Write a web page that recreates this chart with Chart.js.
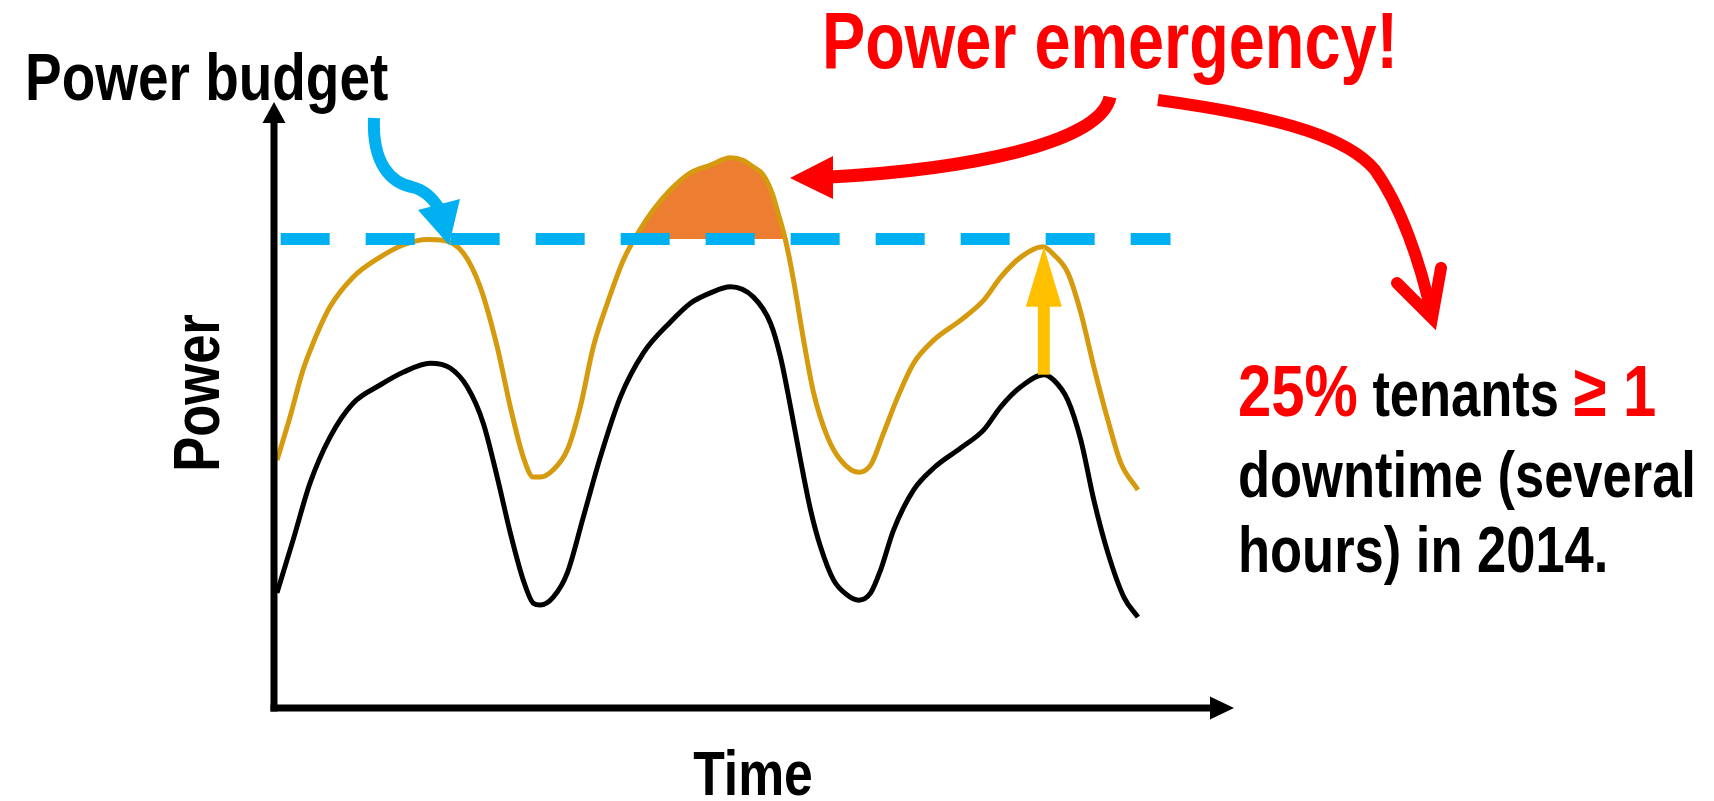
<!DOCTYPE html>
<html>
<head>
<meta charset="utf-8">
<script src="https://cdn.jsdelivr.net/npm/chart.js@4.4.1/dist/chart.umd.min.js"></script>
<style>
html, body { margin: 0; padding: 0; background: #fff; }
#wrap { position: relative; width: 1714px; height: 801px; }
</style>
</head>
<body>
<div id="wrap"><canvas id="chart"></canvas></div>
<script>
// ===== data (time and power in arbitrary units, 0-100) =====
const budgetLevel = 77.4;
const budgetSpan = [0.9, 93.4];

// gold curve: power with oversubscription
const peakTime = [0.52, 1.87, 3.23, 4.27, 6.03, 8.43, 11.24, 13.63, 16.13, 17.79, 19.88, 21.64, 23.41, 24.77, 26.12,
    27.16, 27.89, 29.24, 30.70, 32.05, 33.40, 34.86, 36.52, 38.25, 39.65, 41.42, 43.50, 45.58, 47.66, 48.96,
    50.00, 51.04, 51.98, 52.60, 53.38, 54.21, 55.26, 56.30, 57.75, 59.11, 60.98, 62.23, 63.58, 65.04, 66.70,
    68.78, 71.59, 73.99, 75.75, 77.84, 80.12, 81.27, 82.73, 84.08, 85.43, 86.89, 88.24, 90.01];
const peakPower = [40.9, 48.0, 55.8, 60.2, 66.2, 71.1, 74.4, 76.4, 77.3, 77.2, 75.1, 69.5, 59.6, 49.7, 41.4,
    38.1, 38.1, 39.3, 42.6, 49.7, 59.6, 66.8, 73.9, 78.9, 82.2, 85.5, 88.3, 89.6, 90.8, 90.4,
    89.3, 88.0, 85.0, 81.7, 77.2, 70.6, 60.7, 52.0, 44.7, 40.9, 38.9, 40.1, 45.4, 51.3, 56.9,
    60.7, 64.0, 67.3, 71.1, 74.4, 76.1, 74.8, 71.8, 65.2, 56.3, 47.5, 40.4, 36.0];

// black curve: normal power
const baseTime = [0.52, 2.19, 3.95, 6.03, 8.43, 11.24, 13.63, 16.44, 18.52, 20.29, 21.96, 23.41, 24.77, 26.12,
    27.16, 27.89, 29.24, 30.70, 32.36, 34.13, 36.21, 38.61, 41.42, 43.50, 45.58, 47.66, 50.05, 51.82,
    52.86, 53.90, 54.94, 55.98, 57.02, 58.38, 59.83, 60.98, 62.23, 63.27, 64.62, 66.70, 68.78, 71.59,
    73.99, 75.75, 77.84, 80.23, 81.27, 82.73, 84.08, 85.43, 86.89, 88.55, 90.01];
const basePower = [19.0, 27.7, 37.1, 44.7, 50.3, 53.3, 55.4, 56.9, 56.1, 53.0, 47.0, 38.1, 28.9, 21.1,
    17.3, 17.0, 18.3, 22.3, 31.5, 41.4, 51.3, 58.6, 63.7, 66.8, 68.5, 69.5, 67.8, 63.5,
    57.9, 49.7, 40.9, 32.7, 26.6, 21.1, 18.6, 17.8, 19.0, 22.8, 29.4, 36.0, 39.6, 42.9,
    45.9, 49.7, 53.0, 55.0, 54.1, 50.8, 44.2, 34.3, 25.6, 18.3, 15.0];

const xTitle = 'Time';
const yTitle = 'Power';
const budgetText = 'Power budget';
const emergencyText = 'Power emergency!';
const noteLines = [
    [['25%', 'red'], [' tenants ', 'black'], ['\u2265 1', 'red']],
    [['downtime (several', 'black']],
    [['hours) in 2014.', 'black']],
];

const RED = '#FF0000';
const BLUE = '#00B0F0';
const GOLD = '#D59A0E';
const ORANGE = '#ED7D31';
const YELLOW = '#FFC000';

// ----- text helpers (Arial Narrow look) -----
let narrowOk = null;
function hasNarrow(ctx) {
    if (narrowOk === null) {
        ctx.save();
        ctx.font = 'bold 40px "Liberation Sans Narrow", monospace';
        const a = ctx.measureText('Power budget').width;
        ctx.font = 'bold 40px monospace';
        const b = ctx.measureText('Power budget').width;
        ctx.restore();
        narrowOk = Math.abs(a - b) > 0.5;
    }
    return narrowOk;
}
function setFont(ctx, size) {
    if (hasNarrow(ctx)) {
        ctx.font = `bold ${size}px "Liberation Sans Narrow", "Arial Narrow", sans-serif`;
        return 1;
    }
    ctx.font = `bold ${size}px "Liberation Sans", Arial, sans-serif`;
    return 0.82;
}
function drawText(ctx, str, x, y, size, color, align, rot) {
    ctx.save();
    ctx.translate(x, y);
    if (rot) ctx.rotate(rot);
    const sx = setFont(ctx, size);
    ctx.scale(sx, 1);
    ctx.fillStyle = color;
    ctx.textAlign = align || 'left';
    ctx.textBaseline = 'alphabetic';
    ctx.fillText(str, 0, 0);
    ctx.restore();
}
function textWidth(ctx, str, size) {
    ctx.save();
    const sx = setFont(ctx, size);
    const w = ctx.measureText(str).width * sx;
    ctx.restore();
    return w;
}
function tri(ctx, color, a, b, c) {
    ctx.fillStyle = color;
    ctx.beginPath();
    ctx.moveTo(a[0], a[1]); ctx.lineTo(b[0], b[1]); ctx.lineTo(c[0], c[1]);
    ctx.closePath();
    ctx.fill();
}

const sketchPlugin = {
    id: 'sketch',
    afterDatasetsDraw(chart) {
        const ctx = chart.ctx;
        const ca = chart.chartArea;
        const xs = chart.scales.x, ys = chart.scales.y;
        ctx.save();

        // axes with arrow heads
        const ax = ca.left + 2, ay = ca.bottom;
        ctx.strokeStyle = '#000';
        ctx.lineWidth = 7;
        ctx.lineCap = 'butt';
        ctx.beginPath(); ctx.moveTo(ax, ay + 3.5); ctx.lineTo(ax, ca.top + 18); ctx.stroke();
        tri(ctx, '#000', [ax, ca.top], [ax - 11.5, ca.top + 21], [ax + 11.5, ca.top + 21]);
        ctx.beginPath(); ctx.moveTo(ax - 3.5, ay); ctx.lineTo(ca.right - 20, ay); ctx.stroke();
        tri(ctx, '#000', [ca.right, ay], [ca.right - 24, ay - 11.5], [ca.right - 24, ay + 11.5]);

        // yellow arrow: last black peak up to last gold peak
        let bi = 0, gi = 0;
        baseTime.forEach((t, i) => { if (t > 70 && (bi === 0 || basePower[i] > basePower[bi])) bi = i; });
        peakTime.forEach((t, i) => { if (t > 70 && (gi === 0 || peakPower[i] > peakPower[gi])) gi = i; });
        const yx = xs.getPixelForValue(baseTime[bi]);
        const yb = ys.getPixelForValue(basePower[bi]);
        const yt = ys.getPixelForValue(peakPower[gi]);
        ctx.fillStyle = YELLOW;
        ctx.fillRect(yx - 6, yt + 58, 12, yb - yt - 58);
        tri(ctx, YELLOW, [yx, yt], [yx - 18, yt + 60], [yx + 18, yt + 60]);

        // blue arrow to the budget line
        ctx.strokeStyle = BLUE;
        ctx.lineWidth = 12;
        ctx.beginPath();
        ctx.moveTo(374, 118);
        ctx.bezierCurveTo(372, 165, 392, 183, 412, 187);
        ctx.bezierCurveTo(425, 190, 433, 198, 440, 210);
        ctx.stroke();
        tri(ctx, BLUE, [449, 245], [418, 210], [460, 199]);

        // red arrow to the emergency area
        ctx.strokeStyle = RED;
        ctx.lineWidth = 13;
        ctx.beginPath();
        ctx.moveTo(1110, 97);
        ctx.bezierCurveTo(1100, 145, 960, 170, 830, 177);
        ctx.stroke();
        tri(ctx, RED, [790, 178], [833, 156], [833, 199]);

        // red arrow to the note
        ctx.lineWidth = 12;
        ctx.beginPath();
        ctx.moveTo(1158, 100);
        ctx.bezierCurveTo(1290, 118, 1350, 140, 1375, 170);
        ctx.bezierCurveTo(1400, 205, 1420, 260, 1432, 316);
        ctx.stroke();
        ctx.lineCap = 'round';
        ctx.lineJoin = 'miter';
        ctx.beginPath();
        ctx.moveTo(1397, 283); ctx.lineTo(1432, 318); ctx.lineTo(1441, 268);
        ctx.stroke();

        // texts
        drawText(ctx, budgetText, 25, 100, 67, '#000');
        drawText(ctx, emergencyText, 822, 68, 79, RED);
        drawText(ctx, yTitle, 219, 393, 64, '#000', 'center', -Math.PI / 2);
        drawText(ctx, xTitle, 753, 795, 63, '#000', 'center');

        const baselines = [416, 497, 572];
        noteLines.forEach((line, li) => {
            let x = 1238;
            line.forEach(([str, col]) => {
                const size = col === 'red' ? 73 : 64;
                drawText(ctx, str, x, baselines[li], size, col === 'red' ? RED : '#000');
                x += textWidth(ctx, str, size);
            });
        });
        ctx.restore();
    }
};

const ctx = document.getElementById('chart');
new Chart(ctx, {
    type: 'line',
    data: {
        datasets: [
            {
                label: 'Power budget',
                data: budgetSpan.map(t => ({ x: t, y: budgetLevel })),
                borderColor: BLUE,
                borderWidth: 12,
                borderDash: [49, 36],
                borderCapStyle: 'butt',
                pointRadius: 0,
                fill: false,
                order: 0,
            },
            {
                label: 'Oversubscribed power',
                data: peakTime.map((t, i) => ({ x: t, y: peakPower[i] })),
                borderColor: GOLD,
                borderWidth: 5,
                borderJoinStyle: 'round',
                pointRadius: 0,
                cubicInterpolationMode: 'monotone',
                fill: { target: { value: budgetLevel }, above: ORANGE, below: 'rgba(0,0,0,0)' },
                order: 1,
            },
            {
                label: 'Power',
                data: baseTime.map((t, i) => ({ x: t, y: basePower[i] })),
                borderColor: '#000',
                borderWidth: 5,
                borderJoinStyle: 'round',
                pointRadius: 0,
                cubicInterpolationMode: 'monotone',
                fill: false,
                order: 2,
            }
        ]
    },
    options: {
        responsive: true,
        maintainAspectRatio: false,
        animation: false,
        layout: { padding: { left: 272, top: 102, right: 480, bottom: 93 } },
        scales: {
            x: { type: 'linear', min: 0, max: 100, display: false },
            y: { min: 0, max: 100, display: false },
        },
        plugins: {
            legend: { display: false },
            tooltip: { enabled: false },
        }
    },
    plugins: [sketchPlugin]
});
</script>
</body>
</html>
